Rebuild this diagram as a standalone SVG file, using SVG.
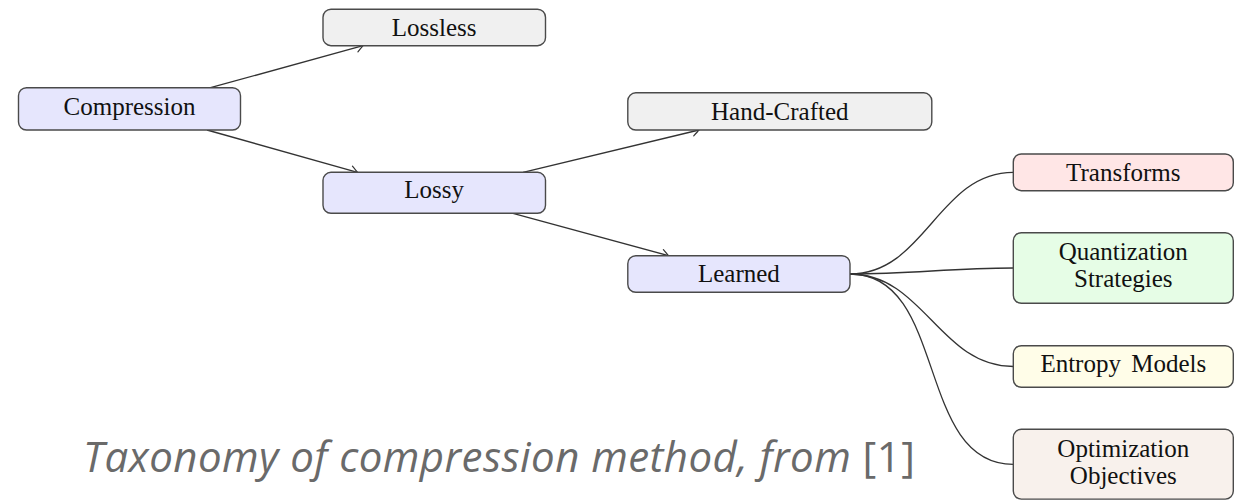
<svg xmlns="http://www.w3.org/2000/svg" width="1235" height="500" viewBox="0 0 1235 500">
  <defs>
    <style>
      .box { stroke: #4a4a4a; stroke-width: 1.4; }
      .lbl { font-family: "Liberation Serif", "Times New Roman", serif; font-size: 25px; fill: #111; text-anchor: middle; }
      .edge { fill: none; stroke: #333; stroke-width: 1.3; }
      .blue { fill: #e6e6fd; }
      .grey { fill: #f0f0f0; }
      .red { fill: #ffe6e6; }
      .green { fill: #e6fde6; }
      .yellow { fill: #fffde8; }
      .brown { fill: #f8f1ec; }
      .caption { font-family: "Open Sans", "Noto Sans", sans-serif; font-size: 42px; font-style: italic; fill: #6a6a6a; }
    </style>
    <marker id="tip" viewBox="-9 -6 11 12" refX="0" refY="0" markerWidth="11" markerHeight="12" markerUnits="userSpaceOnUse" orient="auto">
      <path d="M -6.5 -4.5 Q -1.5 -1 0 0 Q -1.5 1 -6.5 4.5" fill="none" stroke="#333" stroke-width="1.2" stroke-linecap="round"/>
    </marker>
  </defs>

  <rect width="1235" height="500" fill="#ffffff"/>

  <!-- tree connectors -->
  <g id="connectors">
    <line class="edge" x1="210.5" y1="87.7" x2="363" y2="45.7" marker-end="url(#tip)"/>
    <line class="edge" x1="207" y1="130" x2="357.5" y2="172.3" marker-end="url(#tip)"/>
    <line class="edge" x1="523" y1="172.3" x2="699" y2="130" marker-end="url(#tip)"/>
    <line class="edge" x1="513" y1="213.3" x2="668.5" y2="255.7" marker-end="url(#tip)"/>
    <path class="edge" d="M 850 274 C 925.3 274 938 172.4 1013.3 172.4"/>
    <path class="edge" d="M 850 274 C 914 274 949.3 268 1013.3 268"/>
    <path class="edge" d="M 850 274 C 923.5 274 939.8 366.5 1013.3 366.5"/>
    <path class="edge" d="M 850 274 C 948 274 915.3 464.3 1013.3 464.3"/>
  </g>

  <g id="compression">
    <rect class="box blue" x="18.5" y="87.7" width="222" height="42.3" rx="8"/>
    <text class="lbl" x="129.5" y="114.8">Compression</text>
  </g>
  <g id="lossless">
    <rect class="box grey" x="323" y="9.2" width="222.5" height="36.5" rx="8"/>
    <text class="lbl" x="434.2" y="36">Lossless</text>
  </g>
  <g id="lossy">
    <rect class="box blue" x="323" y="172.3" width="222.5" height="41" rx="8"/>
    <text class="lbl" x="434.2" y="198.2">Lossy</text>
  </g>
  <g id="hand-crafted">
    <rect class="box grey" x="627.8" y="92.8" width="304" height="37.2" rx="8"/>
    <text class="lbl" x="779.8" y="120.3">Hand-Crafted</text>
  </g>
  <g id="learned">
    <rect class="box blue" x="627.8" y="255.7" width="222.2" height="36.6" rx="8"/>
    <text class="lbl" x="738.9" y="282.4">Learned</text>
  </g>
  <g id="transforms">
    <rect class="box red" x="1013.3" y="154" width="220" height="36.7" rx="8"/>
    <text class="lbl" x="1123.3" y="180.9">Transforms</text>
  </g>
  <g id="quantization">
    <rect class="box green" x="1013.3" y="232.7" width="220" height="70.6" rx="8"/>
    <text class="lbl" x="1123.3" y="260">Quantization</text>
    <text class="lbl" x="1123.3" y="287.3">Strategies</text>
  </g>
  <g id="entropy">
    <rect class="box yellow" x="1013.3" y="345.7" width="220" height="41.6" rx="8"/>
    <text class="lbl" x="1123.3" y="372" word-spacing="4">Entropy Models</text>
  </g>
  <g id="optimization">
    <rect class="box brown" x="1013.3" y="429.3" width="220" height="69.8" rx="8"/>
    <text class="lbl" x="1123.3" y="456.6">Optimization</text>
    <text class="lbl" x="1123.3" y="483.8">Objectives</text>
  </g>

  <text class="caption" x="83" y="472" textLength="832" lengthAdjust="spacing">Taxonomy of compression method, from <tspan font-style="normal">[1]</tspan></text>
</svg>
